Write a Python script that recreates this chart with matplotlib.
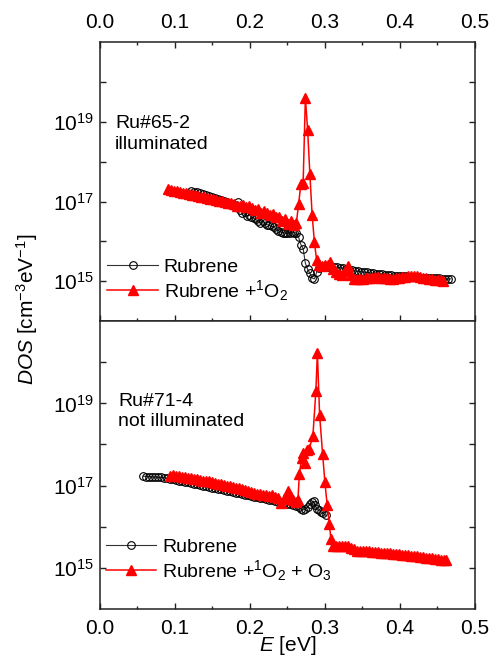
import matplotlib
matplotlib.use("Agg")
import matplotlib.pyplot as plt
from matplotlib.ticker import MultipleLocator, NullFormatter
import numpy as np

plt.rcParams['font.family'] = ['Liberation Sans', 'DejaVu Sans']
plt.rcParams['mathtext.fontset'] = 'custom'
plt.rcParams['mathtext.rm'] = 'Liberation Sans'
plt.rcParams['mathtext.it'] = 'Liberation Sans:italic'
plt.rcParams['mathtext.default'] = 'regular'

# ---- top panel: Ru#65-2 illuminated ----
E_rub_a = [0.122, 0.126, 0.130, 0.134, 0.138, 0.142, 0.146, 0.150, 0.154, 0.158,
           0.162, 0.166, 0.170, 0.174, 0.178, 0.182, 0.184, 0.187, 0.190, 0.193,
           0.196, 0.199, 0.202, 0.205, 0.208, 0.211, 0.214, 0.217, 0.220, 0.223,
           0.226, 0.229, 0.232, 0.235, 0.238, 0.241, 0.244, 0.247, 0.250, 0.253,
           0.256, 0.259, 0.262, 0.265, 0.268, 0.271, 0.274, 0.277, 0.280, 0.283,
           0.286, 0.289, 0.292, 0.296, 0.300, 0.304, 0.308, 0.312, 0.316, 0.320,
           0.324, 0.328, 0.332, 0.336, 0.340, 0.344, 0.348, 0.352, 0.356, 0.360,
           0.364, 0.368, 0.372, 0.376, 0.380, 0.384, 0.388, 0.392, 0.396, 0.400,
           0.404, 0.408, 0.412, 0.416, 0.420, 0.424, 0.428, 0.432, 0.436, 0.440,
           0.444, 0.448, 0.452, 0.456, 0.460, 0.464, 0.468]
logD_rub_a = [17.27, 17.25, 17.23, 17.21, 17.18, 17.16, 17.13, 17.11, 17.08, 17.06,
              17.03, 17.01, 16.98, 16.95, 16.93, 16.88, 17.00, 16.78, 16.72, 16.74,
              16.64, 16.66, 16.62, 16.58, 16.55, 16.50, 16.47, 16.52, 16.45, 16.42,
              16.40, 16.38, 16.36, 16.30, 16.27, 16.24, 16.22, 16.21, 16.20, 16.22,
              16.24, 16.22, 16.21, 16.10, 15.92, 15.82, 15.45, 15.30, 15.20, 15.08,
              15.06, 15.22, 15.32, 15.36, 15.38, 15.37, 15.36, 15.36, 15.35, 15.34,
              15.33, 15.31, 15.29, 15.28, 15.26, 15.25, 15.24, 15.23, 15.22, 15.21,
              15.20, 15.19, 15.18, 15.17, 15.16, 15.16, 15.15, 15.14, 15.13, 15.13,
              15.12, 15.12, 15.11, 15.11, 15.10, 15.10, 15.09, 15.09, 15.08, 15.08,
              15.07, 15.07, 15.07, 15.06, 15.06, 15.06, 15.06]

E_o2_a = [0.091, 0.095, 0.099, 0.103, 0.107, 0.111, 0.115, 0.119, 0.123, 0.127,
          0.131, 0.135, 0.139, 0.143, 0.147, 0.151, 0.155, 0.159, 0.163, 0.167,
          0.171, 0.175, 0.179, 0.183, 0.187, 0.191, 0.195, 0.199, 0.203, 0.207,
          0.211, 0.215, 0.219, 0.223, 0.227, 0.231, 0.235, 0.239, 0.243, 0.247,
          0.251, 0.255, 0.259, 0.262, 0.265, 0.268, 0.271, 0.274, 0.277, 0.280,
          0.283, 0.286, 0.289, 0.292, 0.296, 0.300, 0.304, 0.307, 0.311, 0.315,
          0.319, 0.323, 0.327, 0.331, 0.335, 0.339, 0.343, 0.347, 0.351, 0.355,
          0.359, 0.363, 0.367, 0.371, 0.375, 0.379, 0.383, 0.387, 0.391, 0.395,
          0.399, 0.403, 0.407, 0.411, 0.415, 0.419, 0.423, 0.427, 0.431, 0.435,
          0.439, 0.443, 0.447, 0.451, 0.455, 0.458]
logD_o2_a = [17.31, 17.29, 17.27, 17.26, 17.24, 17.22, 17.21, 17.19, 17.17, 17.16,
             17.14, 17.12, 17.11, 17.09, 17.07, 17.06, 17.04, 17.02, 17.01, 16.99,
             16.97, 16.96, 16.94, 16.90, 16.88, 16.92, 16.86, 16.90, 16.84, 16.78,
             16.82, 16.72, 16.76, 16.70, 16.66, 16.68, 16.60, 16.62, 16.52, 16.56,
             16.44, 16.52, 16.40, 16.47, 16.94, 17.44, 17.46, 19.61, 18.79, 17.69,
             16.67, 15.99, 15.53, 15.40, 15.38, 15.42, 15.40, 15.48, 15.30, 15.22,
             15.18, 15.16, 15.25, 15.38, 15.15, 15.06, 15.05, 15.06, 15.06, 15.07,
             15.08, 15.09, 15.10, 15.10, 15.09, 15.08, 15.07, 15.06, 15.05, 15.07,
             15.09, 15.10, 15.11, 15.12, 15.13, 15.13, 15.12, 15.10, 15.08, 15.07,
             15.06, 15.06, 15.04, 15.03, 15.02, 15.00]

# ---- bottom panel: Ru#71-4 not illuminated ----
E_rub_b = [0.058, 0.062, 0.066, 0.070, 0.074, 0.078, 0.082, 0.086, 0.090, 0.094,
           0.098, 0.102, 0.106, 0.110, 0.114, 0.118, 0.122, 0.126, 0.130, 0.134,
           0.138, 0.142, 0.146, 0.150, 0.154, 0.158, 0.162, 0.166, 0.170, 0.174,
           0.178, 0.182, 0.186, 0.190, 0.194, 0.198, 0.202, 0.206, 0.210, 0.214,
           0.218, 0.222, 0.226, 0.230, 0.234, 0.238, 0.242, 0.246, 0.250, 0.254,
           0.258, 0.262, 0.265, 0.268, 0.271, 0.274, 0.277, 0.280, 0.283, 0.285,
           0.287, 0.289, 0.292, 0.295, 0.298, 0.301]
logD_rub_b = [17.23, 17.22, 17.22, 17.21, 17.21, 17.20, 17.20, 17.19, 17.18, 17.17,
              17.15, 17.14, 17.12, 17.11, 17.09, 17.08, 17.06, 17.05, 17.03, 17.02,
              17.00, 16.98, 16.97, 16.95, 16.94, 16.92, 16.91, 16.89, 16.88, 16.86,
              16.84, 16.83, 16.81, 16.80, 16.78, 16.77, 16.75, 16.73, 16.72, 16.70,
              16.69, 16.67, 16.66, 16.64, 16.63, 16.61, 16.59, 16.58, 16.56, 16.55,
              16.53, 16.51, 16.48, 16.44, 16.41, 16.42, 16.48, 16.55, 16.60, 16.62,
              16.52, 16.42, 16.40, 16.36, 16.33, 16.28]

E_o3_b = [0.093, 0.097, 0.101, 0.105, 0.109, 0.113, 0.117, 0.121, 0.125, 0.129,
          0.133, 0.137, 0.141, 0.145, 0.149, 0.153, 0.157, 0.161, 0.165, 0.169,
          0.173, 0.177, 0.181, 0.185, 0.189, 0.193, 0.197, 0.201, 0.205, 0.209,
          0.213, 0.217, 0.221, 0.225, 0.229, 0.233, 0.237, 0.241, 0.245, 0.249,
          0.251, 0.255, 0.258, 0.261, 0.264, 0.266, 0.269, 0.271, 0.274, 0.276,
          0.279, 0.284, 0.288, 0.290, 0.293, 0.297, 0.300, 0.303, 0.306, 0.308,
          0.311, 0.315, 0.319, 0.323, 0.327, 0.331, 0.335, 0.339, 0.343, 0.347,
          0.351, 0.355, 0.359, 0.363, 0.367, 0.371, 0.375, 0.379, 0.383, 0.387,
          0.391, 0.395, 0.399, 0.403, 0.407, 0.411, 0.415, 0.419, 0.423, 0.427,
          0.431, 0.435, 0.439, 0.443, 0.447, 0.451, 0.455, 0.459, 0.462]
logD_o3_b = [17.24, 17.25, 17.24, 17.23, 17.22, 17.20, 17.19, 17.18, 17.16, 17.15,
             17.13, 17.12, 17.11, 17.10, 17.08, 17.07, 17.05, 17.03, 17.02, 17.00,
             16.99, 16.97, 16.95, 16.93, 16.91, 16.89, 16.86, 16.84, 16.83, 16.80,
             16.79, 16.77, 16.76, 16.74, 16.76, 16.72, 16.70, 16.57, 16.68, 16.72,
             16.86, 16.72, 16.64, 16.60, 16.64, 17.28, 17.67, 17.79, 17.54, 17.87,
             17.89, 18.20, 19.30, 20.23, 18.71, 17.76, 17.09, 16.54, 16.07, 15.70,
             15.54, 15.53, 15.52, 15.53, 15.54, 15.52, 15.49, 15.45, 15.42, 15.41,
             15.41, 15.40, 15.40, 15.39, 15.38, 15.38, 15.37, 15.36, 15.36, 15.35,
             15.34, 15.34, 15.33, 15.32, 15.31, 15.31, 15.30, 15.29, 15.28, 15.27,
             15.26, 15.25, 15.24, 15.23, 15.22, 15.21, 15.20, 15.19, 15.18]

FS = 15      # tick labels / axis labels
FT = 14      # legend and sample text

fig = plt.figure(figsize=(4.9, 6.58), dpi=100)
ax1 = fig.add_axes([0.204, 0.512, 0.765, 0.424])
ax2 = fig.add_axes([0.204, 0.0745, 0.765, 0.4375])

black_kw = dict(color='#333333', lw=0.8, marker='o', ms=5.5, mfc='none', mec='black', mew=0.8)
red_kw = dict(color='red', lw=1.1, marker='^', ms=7.5, mfc='red', mec='red')

ax1.plot(E_rub_a, 10 ** np.array(logD_rub_a), label='Rubrene', **black_kw)
ax1.plot(E_o2_a, 10 ** np.array(logD_o2_a), label=r'Rubrene +$^1$O$_2$', **red_kw)
ax2.plot(E_rub_b, 10 ** np.array(logD_rub_b), label='Rubrene', **black_kw)
ax2.plot(E_o3_b, 10 ** np.array(logD_o3_b), label=r'Rubrene +$^1$O$_2$ + O$_3$', **red_kw)

for ax in (ax1, ax2):
    ax.set_yscale('log')
    ax.set_ylim(1e14, 1e21)
    ax.set_xlim(0.0, 0.5)
    ax.set_yticks([1e15, 1e17, 1e19])
    ax.set_yticks([1e16, 1e18, 1e20], minor=True)
    ax.yaxis.set_minor_formatter(NullFormatter())
    ax.xaxis.set_major_locator(MultipleLocator(0.1))
    ax.xaxis.set_minor_locator(MultipleLocator(0.05))
    ax.xaxis.set_major_formatter(matplotlib.ticker.FormatStrFormatter('%.1f'))
    for s in ax.spines.values():
        s.set_linewidth(1.1)
        s.set_color('#222222')
    ax.tick_params(which='major', direction='in', length=4.5, width=1.0, labelsize=FS, color='#222222')
    ax.tick_params(which='minor', direction='in', length=2.5, width=1.0, color='#222222')
    ax.tick_params(axis='y', which='both', left=True, right=True, pad=4)
    ax.tick_params(axis='y', which='minor', length=4)
    ax.tick_params(axis='x', which='both', pad=7)
    ax.legend(loc='upper left', frameon=False, fontsize=FT,
              handlelength=2.6, handletextpad=0.3, borderpad=0,
              borderaxespad=0, labelspacing=0.1)

ax1.legend_.set_bbox_to_anchor((0.02, 0.225))
ax2.legend_.set_bbox_to_anchor((0.015, 0.245))

ax1.tick_params(axis='x', which='both', top=True, bottom=True, labeltop=True, labelbottom=False)
ax2.tick_params(axis='x', which='both', top=False, bottom=True, labeltop=False, labelbottom=True)

ax1.text(0.04, 0.74, 'Ru#65-2\nilluminated', transform=ax1.transAxes,
         fontsize=FT, va='top', ha='left', linespacing=1.3)
ax2.text(0.048, 0.75, 'Ru#71-4\nnot illuminated', transform=ax2.transAxes,
         fontsize=FT, va='top', ha='left', linespacing=1.2)

ax2.set_xlabel(r'$\it{E}$ [eV]', fontsize=FS, labelpad=-3)
fig.text(0.055, 0.53, r'$\it{DOS}$ [cm$^{-3}$eV$^{-1}$]', rotation=90,
         fontsize=FS, ha='center', va='center')

fig.savefig('out.png', dpi=100)
